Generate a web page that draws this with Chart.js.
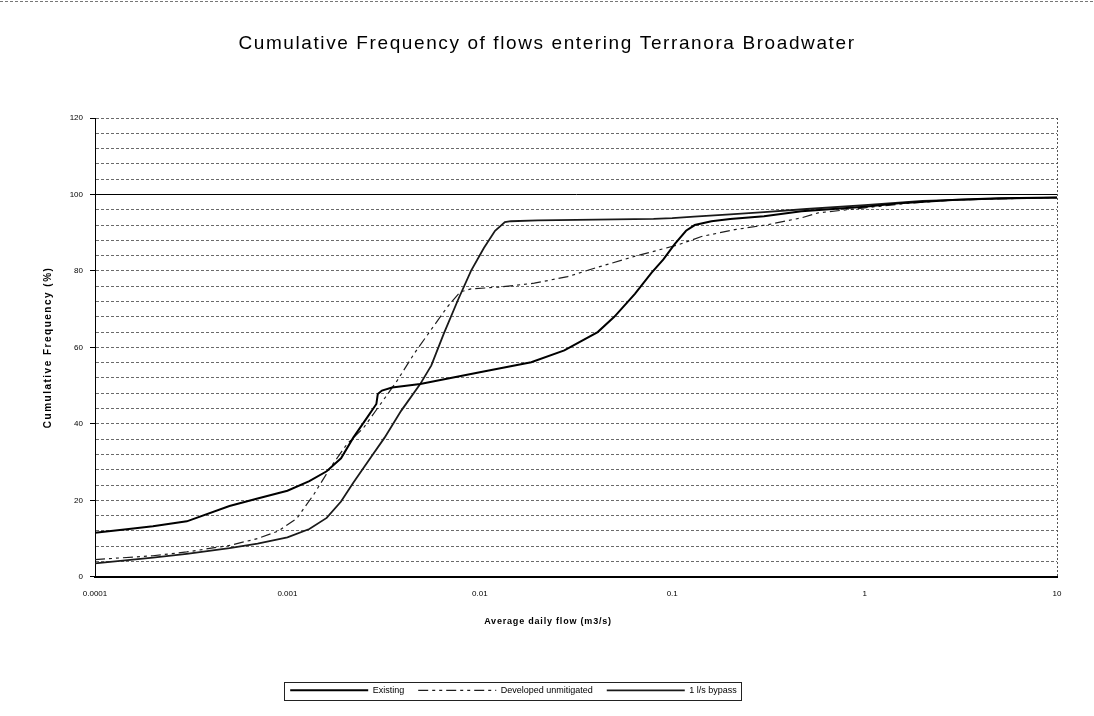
<!DOCTYPE html>
<html>
<head>
<meta charset="utf-8">
<title>Cumulative Frequency of flows entering Terranora Broadwater</title>
<script src="https://cdn.jsdelivr.net/npm/chart.js@4.4.1/dist/chart.umd.min.js"></script>
<style>
  html, body { margin: 0; padding: 0; background: #ffffff; }
  #wrap { width: 1094px; height: 716px; }
</style>
</head>
<body>
<div id="wrap"><canvas id="chart" width="1094" height="716"></canvas></div>
<script>
// Existing catchment: average daily flow (m3/s) against cumulative frequency (%)
const existingFlow = [0.0001, 0.00015, 0.0002, 0.0003, 0.0005, 0.0007, 0.001, 0.0013, 0.0016, 0.0019,
  0.0022, 0.0026, 0.0029, 0.00295, 0.0031, 0.0035, 0.0049, 0.01, 0.0185, 0.0275, 0.041, 0.05, 0.064,
  0.078, 0.09, 0.103, 0.118, 0.131, 0.16, 0.2, 0.3, 0.47, 1, 1.6, 3, 5, 10];
const existingFreq = [11.5, 12.5, 13.2, 14.5, 18.5, 20.5, 22.5, 25, 27.6, 31, 36.4, 41.7, 45.2, 47.8,
  48.7, 49.5, 50.4, 53.5, 56.1, 59.2, 64, 68, 74, 79.5, 83, 87, 90.5, 92, 93, 93.6, 94.3, 95.6, 96.8,
  97.8, 98.6, 99, 99.2];

// Developed, unmitigated
const developedFlow = [0.0001, 0.0002, 0.0003, 0.0005, 0.0007, 0.0009, 0.00112, 0.00137, 0.00167,
  0.00204, 0.00249, 0.00305, 0.00372, 0.00455, 0.00556, 0.00679, 0.0079, 0.009, 0.0128, 0.0192,
  0.0286, 0.0394, 0.0637, 0.107, 0.142, 0.211, 0.315, 0.47, 0.574, 1, 1.6, 3, 10];
const developedFreq = [4.5, 5.5, 6.5, 8.2, 10, 12, 15.3, 21.5, 28.5, 34.7, 39, 45.2, 51.3, 58.3, 64.5,
  70.6, 74.5, 75.3, 75.8, 76.8, 78.5, 80.7, 83.8, 86.8, 89, 90.8, 92.1, 93.9, 95.2, 96.5, 97.6, 98.6, 99.2];

// Developed with a 1 l/s low-flow bypass
const bypassFlow = [0.0001, 0.0002, 0.0003, 0.0005, 0.0007, 0.001, 0.0013, 0.0016, 0.0019, 0.0022,
  0.0027, 0.0032, 0.0039, 0.0049, 0.0056, 0.0065, 0.0077, 0.009, 0.0105, 0.012, 0.0135, 0.0145, 0.02,
  0.04, 0.08, 0.1, 0.13, 0.2, 0.3, 0.5, 1, 2, 5, 10];
const bypassFreq = [3.5, 5, 6, 7.5, 8.7, 10.3, 12.5, 15.4, 19.7, 24.6, 31.1, 36.4, 43.4, 50.4, 55.3,
  63.6, 72.4, 80, 86, 90.5, 92.8, 93, 93.2, 93.4, 93.6, 93.8, 94.2, 94.8, 95.4, 96.2, 97.2, 98.3, 98.9, 99.2];

const seriesNames = ['Existing', 'Developed unmitigated', '1 l/s bypass'];

// Decade ticks of the flow axis and their labels
const flowTicks = [0.0001, 0.001, 0.01, 0.1, 1, 10];
const flowTickLabels = ['0.0001', '0.001', '0.01', '0.1', '1', '10'];

// Frequency axis: grid every 4 %, labels every 20 %
const freqMin = 0, freqMax = 120, freqGridStep = 4, freqLabelStep = 20;

const FONT = '"Liberation Sans", Arial, sans-serif';

const toPoints = (xs, ys) => xs.map((x, i) => ({ x, y: ys[i] }));

// Wraps a drawing method so its text gets extra letter spacing and an optional sideways shift
function restyleText(obj, method, spacing, dx) {
  const flag = '__restyled_' + method;
  if (!obj || obj[flag]) return;
  const original = obj[method];
  obj[method] = function (...args) {
    const c = this.ctx;
    c.save();
    c.letterSpacing = spacing;
    if (dx) c.translate(dx, 0);
    const result = original.apply(this, args);
    c.restore();
    return result;
  };
  obj[flag] = true;
}

// Draws the frame pieces: box round the legend, dotted right edge of the plot, outer top edge
const framePlugin = {
  id: 'frame',
  afterLayout(chart) {
    // legend sits a little left of the page centre; the title is centred on the page
    chart.legend.right -= 30;
    chart.titleBlock.right += 37;
    restyleText(chart.titleBlock, 'draw', '1.6px', 0);
    restyleText(chart.scales.x, 'drawTitle', '0.8px', -28);
    restyleText(chart.scales.y, 'drawTitle', '1.5px', 0);
  },
  afterDraw(chart) {
    const ctx = chart.ctx;
    const area = chart.chartArea;
    ctx.save();

    // dotted right border of the plot area
    ctx.strokeStyle = '#555';
    ctx.lineWidth = 1;
    ctx.setLineDash([2, 2]);
    ctx.beginPath();
    ctx.moveTo(Math.round(area.right) + 0.5, area.top);
    ctx.lineTo(Math.round(area.right) + 0.5, area.bottom);
    ctx.stroke();

    // outer top edge
    ctx.strokeStyle = '#777';
    ctx.setLineDash([3, 2]);
    ctx.beginPath();
    ctx.moveTo(0, 1.5);
    ctx.lineTo(chart.width, 1.5);
    ctx.stroke();

    // legend box
    const boxes = chart.legend.legendHitBoxes;
    if (boxes && boxes.length) {
      let l = Infinity, r = -Infinity, t = Infinity, b = -Infinity;
      boxes.forEach(h => {
        l = Math.min(l, h.left); r = Math.max(r, h.left + h.width);
        t = Math.min(t, h.top); b = Math.max(b, h.top + h.height);
      });
      ctx.setLineDash([]);
      ctx.strokeStyle = '#222';
      ctx.strokeRect(Math.round(l - 6) + 0.5, Math.round(t - 4) + 0.5,
        Math.round(r - l + 10), Math.round(b - t + 9));
    }
    ctx.restore();
  }
};

new Chart(document.getElementById('chart'), {
  type: 'line',
  data: {
    datasets: [
      {
        label: seriesNames[0],
        data: toPoints(existingFlow, existingFreq),
        borderColor: '#000000',
        backgroundColor: '#000000',
        borderWidth: 2,
        pointRadius: 0,
        tension: 0
      },
      {
        label: seriesNames[1],
        data: toPoints(developedFlow, developedFreq),
        borderColor: '#1e1e1e',
        backgroundColor: '#1e1e1e',
        borderWidth: 1.2,
        borderDash: [10, 4, 3, 4, 3, 4],
        pointRadius: 0,
        tension: 0
      },
      {
        label: seriesNames[2],
        data: toPoints(bypassFlow, bypassFreq),
        borderColor: '#1a1a1a',
        backgroundColor: '#1a1a1a',
        borderWidth: 1.8,
        pointRadius: 0,
        tension: 0
      }
    ]
  },
  options: {
    responsive: false,
    animation: false,
    layout: { padding: { left: 0, right: 37, top: 0, bottom: 11.2 } },
    plugins: {
      title: {
        display: true,
        text: 'Cumulative Frequency of flows entering Terranora Broadwater',
        color: '#000',
        font: { family: FONT, size: 19, weight: 'normal' },
        padding: { top: 32.6, bottom: 62.6 }
      },
      legend: {
        display: true,
        position: 'bottom',
        labels: {
          color: '#000',
          font: { family: FONT, size: 9 },
          usePointStyle: true,
          pointStyle: 'line',
          pointStyleWidth: 78,
          padding: 14,
          // legend lines take the width and dash of their series lines
          generateLabels(chart) {
            const items = Chart.defaults.plugins.legend.labels.generateLabels(chart);
            return items.map(item => {
              const ds = chart.data.datasets[item.datasetIndex];
              item.lineDash = ds.borderDash || [];
              item.lineWidth = ds.borderWidth;
              item.strokeStyle = ds.borderColor;
              return item;
            });
          }
        }
      },
      tooltip: { enabled: false }
    },
    scales: {
      x: {
        type: 'logarithmic',
        min: flowTicks[0],
        max: flowTicks[flowTicks.length - 1],
        afterBuildTicks(scale) {
          scale.ticks = flowTicks.map(v => ({ value: v }));
        },
        afterFit(scale) { scale.height = 95; },
        ticks: {
          color: '#000',
          font: { family: FONT, size: 8 },
          padding: 12,
          maxRotation: 0,
          autoSkip: false,
          callback(value) {
            const i = flowTicks.findIndex(t => Math.abs(Math.log10(t) - Math.log10(value)) < 1e-6);
            return i >= 0 ? flowTickLabels[i] : '';
          }
        },
        grid: { display: false, drawTicks: false },
        border: { display: true, color: '#000', width: 2 },
        title: {
          display: true,
          text: 'Average daily flow (m3/s)',
          color: '#000',
          font: { family: FONT, size: 9, weight: 'bold' },
          padding: { top: 0, bottom: 44.6 }
        }
      },
      y: {
        type: 'linear',
        min: freqMin,
        max: freqMax,
        afterFit(scale) { scale.width = 95; },
        ticks: {
          stepSize: freqGridStep,
          autoSkip: false,
          color: '#000',
          font: { family: FONT, size: 8 },
          padding: 7,
          callback(value) {
            return value % freqLabelStep === 0 ? String(value) : '';
          }
        },
        grid: {
          display: true,
          drawTicks: true,
          tickLength: 5,
          lineWidth: 1,
          color: ctx => (ctx.tick && ctx.tick.value === 100 ? '#000' : '#6a6a6a'),
          tickColor: ctx => (ctx.tick && ctx.tick.value % freqLabelStep === 0 ? '#000' : 'rgba(0,0,0,0)')
        },
        border: {
          display: true,
          color: '#000',
          width: 1,
          dash: ctx => (ctx.tick && ctx.tick.value === 100 ? [] : [3, 2])
        },
        title: {
          display: true,
          text: 'Cumulative Frequency (%)',
          color: '#000',
          font: { family: FONT, size: 10, weight: 'bold' },
          padding: { top: 42, bottom: 0 }
        }
      }
    }
  },
  plugins: [framePlugin]
});
</script>
</body>
</html>
